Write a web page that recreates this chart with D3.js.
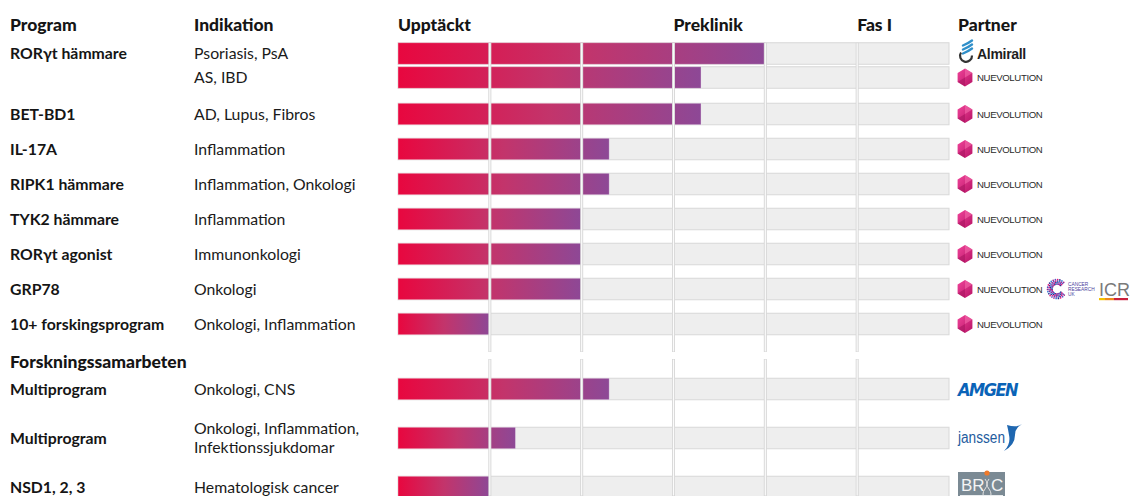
<!DOCTYPE html>
<html>
<head>
<meta charset="utf-8">
<script src="https://cdn.jsdelivr.net/npm/d3@7"></script>
<style>
  html, body { margin: 0; padding: 0; background: #fff; }
  svg { display: block; font-family: Lato, "Open Sans", sans-serif; }
  .head { font-size: 17.5px; font-weight: 900; fill: #151515; }
  .prog { font-size: 15.8px; font-weight: 700; fill: #151515; }
  .ind { font-size: 15.8px; font-weight: 400; fill: #1a1a1a; }
</style>
</head>
<body>
<svg id="chart" width="1131" height="496"></svg>
<script>
const headers = ["Program", "Indikation"];
const stageLabels = ["Upptäckt", "Preklinik", "Fas I"];
const stageStart = [0, 3, 5];
const columnCount = 6;
const partnerHeader = "Partner";
const sectionTitles = ["", "Forskningssamarbeten"];

const programs = [
  "RORγt hämmare", "", "BET-BD1", "IL-17A", "RIPK1 hämmare", "TYK2 hämmare",
  "RORγt agonist", "GRP78", "10+ forskingsprogram",
  "Multiprogram", "Multiprogram", "NSD1, 2, 3"
];
const indications = [
  ["Psoriasis, PsA"], ["AS, IBD"], ["AD, Lupus, Fibros"], ["Inflammation"],
  ["Inflammation, Onkologi"], ["Inflammation"], ["Immunonkologi"], ["Onkologi"],
  ["Onkologi, Inflammation"], ["Onkologi, CNS"],
  ["Onkologi, Inflammation,", "Infektionssjukdomar"], ["Hematologisk cancer"]
];
// progress in columns (6 columns: 3 Upptäckt, 2 Preklinik, 1 Fas I)
const progress = [4, 3.3, 3.3, 2.3, 2.3, 2, 2, 2, 1, 2.3, 1.28, 1];
const rowSection = [0, 0, 0, 0, 0, 0, 0, 0, 0, 1, 1, 1];
const partners = [
  ["almirall"], ["nuevolution"], ["nuevolution"], ["nuevolution"], ["nuevolution"],
  ["nuevolution"], ["nuevolution"], ["nuevolution", "cruk", "icr"], ["nuevolution"],
  ["amgen"], ["janssen"], ["bric"]
];

const svg = d3.select("#chart");
const x = d3.scaleLinear().domain([0, columnCount]).range([398, 949]);
const barH = 21.5;

// vertical layout
const rowY = [];
programs.forEach((p, i) => {
  if (i === 0) { rowY.push(53.5); return; }
  let gap = p === "" ? 24 : (programs[i - 1] === "" ? 36.5 : 35);
  if (rowSection[i] !== rowSection[i - 1]) gap += 30;
  if (indications[i].length > 1 || indications[i - 1].length > 1) gap += 14;
  rowY.push(rowY[i - 1] + gap);
});
const sectionStartIdx = rowSection.indexOf(1);

// gradient
const defs = svg.append("defs");
const grad = defs.append("linearGradient").attr("id", "barGrad")
  .attr("x1", 0).attr("x2", 1).attr("y1", 0).attr("y2", 0);
grad.append("stop").attr("offset", "0%").attr("stop-color", "#e8073f");
grad.append("stop").attr("offset", "50%").attr("stop-color", "#c3346b");
grad.append("stop").attr("offset", "100%").attr("stop-color", "#8d4896");
const hexGrad = defs.append("linearGradient").attr("id", "hexGrad")
  .attr("x1", 0).attr("x2", 1).attr("y1", 0).attr("y2", 1);
hexGrad.append("stop").attr("offset", "0%").attr("stop-color", "#f0449a");
hexGrad.append("stop").attr("offset", "100%").attr("stop-color", "#b81466");

// headers
svg.selectAll("text.colhead").data(headers).join("text")
  .attr("class", "head").attr("x", (d, i) => [10, 194][i]).attr("y", 31).text(d => d);
svg.selectAll("text.stagehead").data(stageLabels).join("text")
  .attr("class", "head").attr("x", (d, i) => x(stageStart[i])).attr("y", 31).text(d => d);
svg.append("text").attr("class", "head").attr("x", 958).attr("y", 31).text(partnerHeader);
svg.append("text").attr("class", "head").attr("x", 10)
  .attr("y", rowY[sectionStartIdx] - 21).text(sectionTitles[1]);

// tracks
svg.append("g").selectAll("rect").data(rowY).join("rect")
  .attr("x", x(0)).attr("width", x(columnCount) - x(0))
  .attr("y", d => d - barH / 2).attr("height", barH)
  .attr("fill", "#eeeeee").attr("stroke", "#d8d8d8").attr("stroke-width", 1);

// bars
svg.append("g").selectAll("rect").data(progress).join("rect")
  .attr("x", x(0)).attr("width", d => x(d) - x(0))
  .attr("y", (d, i) => rowY[i] - barH / 2).attr("height", barH)
  .attr("fill", "url(#barGrad)")
  .attr("stroke", "rgba(255,255,255,0.45)").attr("stroke-width", 0.8);

// column dividers (broken around the section header)
const segs = [
  [rowY[0] - barH / 2, rowY[sectionStartIdx] - 37],
  [rowY[sectionStartIdx] - 30, 496]
];
const divG = svg.append("g");
d3.range(1, columnCount).forEach(c => {
  segs.forEach(s => {
    divG.append("line").attr("x1", x(c)).attr("x2", x(c)).attr("y1", s[0]).attr("y2", s[1])
      .attr("stroke", "#d6d6d6").attr("stroke-width", 3);
    divG.append("line").attr("x1", x(c)).attr("x2", x(c)).attr("y1", s[0] + 0.5).attr("y2", s[1] - 0.5)
      .attr("stroke", "#fbfbfb").attr("stroke-width", 1.2);
  });
});

// labels
svg.append("g").selectAll("text").data(programs).join("text")
  .attr("class", "prog").attr("x", 10).attr("y", (d, i) => rowY[i] + 5.5)
  .text(d => d);
const indG = svg.append("g");
indications.forEach((lines, i) => {
  const y0 = lines.length > 1 ? rowY[i] - 4.5 : rowY[i] + 5.5;
  lines.forEach((t, k) => {
    indG.append("text").attr("class", "ind").attr("x", 194).attr("y", y0 + k * 19).text(t);
  });
});

// partner logos
function drawNuevolution(g, cx, cy) {
  const r = 9;
  const pts = d3.range(6).map(k => {
    const a = Math.PI / 6 + k * Math.PI / 3;
    return [cx + r * Math.cos(a) * 0.95, cy + r * Math.sin(a)];
  });
  g.append("polygon").attr("points", pts.map(p => p.join(",")).join(" "))
    .attr("fill", "url(#hexGrad)");
  g.append("polygon").attr("points", [[cx, cy - r], [cx + r * 0.82, cy - r / 2], [cx, cy]].map(p => p.join(",")).join(" "))
    .attr("fill", "#f56aac").attr("opacity", 0.6);
  g.append("polygon").attr("points", [[cx, cy], [cx - r * 0.82, cy + r / 2], [cx, cy + r]].map(p => p.join(",")).join(" "))
    .attr("fill", "#a0105a").attr("opacity", 0.5);
  g.append("text").attr("x", cx + 12).attr("y", cy + 3.6)
    .attr("font-family", "Liberation Sans, Arial, sans-serif").attr("font-size", 9.6)
    .attr("letter-spacing", -0.35).attr("fill", "#2a2a2a").text("NUEVOLUTION");
}
function drawAlmirall(g, x0, cy) {
  const blue = "#2f8fc9";
  [-8, -4, 0].forEach(dy => {
    g.append("path").attr("d", `M${x0 + 6},${cy + dy} q5,-2 9,-5`)
      .attr("stroke", blue).attr("stroke-width", 2.4).attr("fill", "none").attr("stroke-linecap", "round");
  });
  g.append("path").attr("d", `M${x0 + 4},${cy - 1} a6,6 0 1,0 11,3`)
    .attr("stroke", "#333").attr("stroke-width", 2.2).attr("fill", "none");
  g.append("text").attr("x", x0 + 20).attr("y", cy + 5)
    .attr("font-family", "Liberation Sans, Arial, sans-serif").attr("font-weight", 700)
    .attr("font-size", 14).attr("fill", "#1e1e1e").attr("letter-spacing", -0.3).text("Almirall");
}
function drawCruk(g, x0, cy) {
  const cols = ["#2e2a8c", "#e0147a", "#5a4fc4", "#9b2a8c", "#3a7bd5"];
  let k = 0;
  for (let a = 0.7; a < 2 * Math.PI - 0.7; a += 0.24) {
    for (let rr = 5; rr <= 9.5; rr += 1.5) {
      g.append("circle").attr("cx", x0 + 10 + rr * Math.cos(a)).attr("cy", cy + rr * Math.sin(a))
        .attr("r", 0.85).attr("fill", cols[k++ % cols.length]);
    }
  }
  ["CANCER", "RESEARCH", "UK"].forEach((t, i) => {
    g.append("text").attr("x", x0 + 21).attr("y", cy - 3.5 + i * 5)
      .attr("font-family", "Liberation Sans, Arial, sans-serif").attr("font-size", 4.8)
      .attr("fill", "#4b3f9e").text(t);
  });
}
function drawIcr(g, x0, cy) {
  g.append("text").attr("x", x0).attr("y", cy + 7)
    .attr("font-family", "Liberation Sans, Arial, sans-serif").attr("font-size", 18)
    .attr("fill", "#7a7a7a").text("ICR");
  [["#f2c200", 0, 6], ["#f08a1c", 6, 9], ["#c9203c", 15, 14]].forEach(s => {
    g.append("rect").attr("x", x0 + s[1]).attr("y", cy + 9).attr("width", s[2]).attr("height", 2.2).attr("fill", s[0]);
  });
}
function drawAmgen(g, x0, cy) {
  g.append("text").attr("x", x0).attr("y", cy + 6.5)
    .attr("font-family", "DejaVu Sans, sans-serif").attr("font-weight", 700).attr("font-style", "italic")
    .attr("font-size", 17).attr("fill", "#0a63b7").attr("letter-spacing", -1.6)
    .attr("textLength", 59).attr("lengthAdjust", "spacingAndGlyphs").text("AMGEN");
}
function drawJanssen(g, x0, cy) {
  g.append("text").attr("x", x0).attr("y", cy + 5)
    .attr("font-family", "Liberation Sans, Arial, sans-serif").attr("font-size", 16)
    .attr("fill", "#1f5c9e").attr("textLength", 47).attr("lengthAdjust", "spacingAndGlyphs").text("janssen");
  g.append("path").attr("d", `M${x0 + 49},${cy - 13} q10,3 15,-1 q-7,4 -7,11 q0,10 -11,16 q7,-7 5,-16 q-1,-6 -2,-10 z`)
    .attr("fill", "#1f67b0");
}
function drawBric(g, x0, cy) {
  g.append("rect").attr("x", x0).attr("y", cy - 16).attr("width", 47).attr("height", 30).attr("fill", "#7b8a94");
  g.append("text").attr("x", x0 + 3).attr("y", cy + 3)
    .attr("font-family", "Liberation Sans, Arial, sans-serif").attr("font-size", 17)
    .attr("fill", "#f4f4f4").text("BR");
  g.append("text").attr("x", x0 + 33).attr("y", cy + 3)
    .attr("font-family", "Liberation Sans, Arial, sans-serif").attr("font-size", 17)
    .attr("fill", "#f4f4f4").text("C");
  g.append("path").attr("d", `M${x0 + 27},${cy - 9} q4,5 0,10 q-4,5 0,10 M${x0 + 31},${cy - 9} q-4,5 0,10 q4,5 0,10`)
    .attr("stroke", "#e3e3e3").attr("stroke-width", 1).attr("fill", "none");
  g.append("circle").attr("cx", x0 + 29).attr("cy", cy - 15).attr("r", 2.6).attr("fill", "#f07a2a");
  g.append("rect").attr("x", x0 + 2).attr("y", cy + 7).attr("width", 43).attr("height", 5).attr("fill", "#e9ecee");
}

const logoG = svg.append("g");
partners.forEach((list, i) => {
  const cy = rowY[i];
  list.forEach(p => {
    const g = logoG.append("g");
    if (p === "nuevolution") drawNuevolution(g, 965, cy);
    else if (p === "almirall") drawAlmirall(g, 957, cy);
    else if (p === "cruk") drawCruk(g, 1047, cy);
    else if (p === "icr") drawIcr(g, 1099, cy);
    else if (p === "amgen") drawAmgen(g, 958, cy);
    else if (p === "janssen") drawJanssen(g, 958, cy);
    else if (p === "bric") drawBric(g, 958, cy + 1);
  });
});
</script>
</body>
</html>
